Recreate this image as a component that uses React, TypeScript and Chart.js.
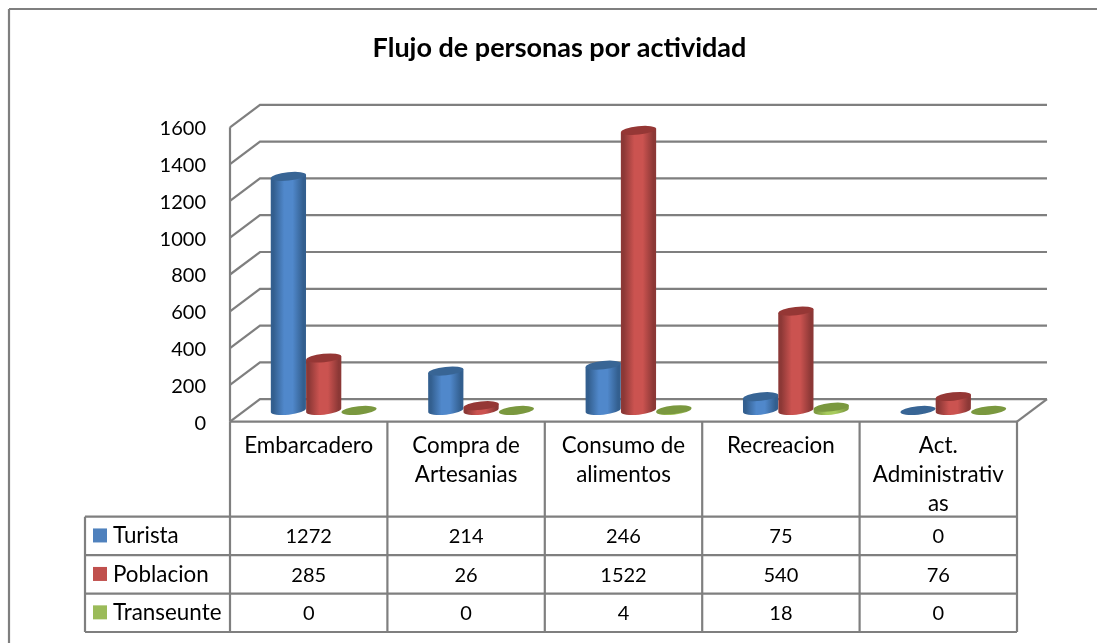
import React, { useEffect, useRef } from "react";
import { Chart, registerables } from "chart.js";

Chart.register(...registerables);

const chartTitle = "Flujo de personas por actividad";
const categories = [
  ["Embarcadero"],
  ["Compra de", "Artesanias"],
  ["Consumo de", "alimentos"],
  ["Recreacion"],
  ["Act.", "Administrativ", "as"],
];
const seriesNames = ["Turista", "Poblacion", "Transeunte"];
const turista = [1272, 214, 246, 75, 0];
const poblacion = [285, 26, 1522, 540, 76];
const transeunte = [0, 0, 4, 18, 0];
const seriesValues = [turista, poblacion, transeunte];

const FONT = "Lato, Carlito, Calibri, sans-serif";
const LINE = "#7f7f7f";
const DEPTH_X = 30;
const DEPTH_Y = -22.5;
const ROW_TOPS = [516.7, 555.2, 593.7, 632];
const TABLE_LEFT = 85;

const palette = [
  { key: "#4f81bd", top: "#386595", edge: "#335f8f", mid: "#5088cb" },
  { key: "#c0504d", top: "#953735", edge: "#8c3836", mid: "#cb5350" },
  { key: "#9bbb59", top: "#7a983f", edge: "#7f9c42", mid: "#a8cc5e" },
];

function line(ctx: any, x1: number, y1: number, x2: number, y2: number) {
  ctx.beginPath();
  ctx.moveTo(x1, y1);
  ctx.lineTo(x2, y2);
  ctx.stroke();
}

const framePlugin = {
  id: "frame3d",
  beforeDraw(chart: any) {
    const { ctx, scales, chartArea } = chart;
    const { left, right, bottom } = chartArea;
    ctx.save();
    ctx.fillStyle = "#ffffff";
    ctx.fillRect(0, 0, chart.width, chart.height);
    ctx.strokeStyle = LINE;
    ctx.lineWidth = 2.2;
    line(ctx, 9, 9, chart.width, 9);
    line(ctx, 9, 9, 9, chart.height);

    for (const t of scales.y.ticks) {
      const y = scales.y.getPixelForValue(t.value);
      ctx.beginPath();
      ctx.moveTo(left, y);
      ctx.lineTo(left + DEPTH_X, y + DEPTH_Y);
      ctx.lineTo(right + DEPTH_X, y + DEPTH_Y);
      ctx.stroke();
    }
    line(ctx, left, chartArea.top, left, bottom);
    line(ctx, left, bottom, right, bottom);
    line(ctx, right, bottom, right + DEPTH_X, bottom + DEPTH_Y);
    ctx.restore();
  },
  beforeDatasetsDraw(chart: any) {
    const { ctx, scales } = chart;
    const ry = 4.2;
    const rot = (-6 * Math.PI) / 180;
    const dx = DEPTH_X / 2;
    const dy = DEPTH_Y / 2;
    const zero = scales.y.getPixelForValue(0) + dy;
    ctx.save();
    categories.forEach((_, i) => {
      chart.data.datasets.forEach((_d: any, s: number) => {
        const el = chart.getDatasetMeta(s).data[i];
        const { x, y, width } = el.getProps(["x", "y", "width"], true);
        const cx = x + dx;
        const yt = y + dy;
        const rx = width / 2;
        const c = palette[s];
        const shift = rx * Math.sin(rot);
        if (yt < zero - 0.01) {
          const g = ctx.createLinearGradient(cx - rx, 0, cx + rx, 0);
          g.addColorStop(0, c.edge);
          g.addColorStop(0.08, c.edge);
          g.addColorStop(0.38, c.mid);
          g.addColorStop(0.62, c.mid);
          g.addColorStop(0.92, c.edge);
          g.addColorStop(1, c.edge);
          ctx.fillStyle = g;
          ctx.beginPath();
          ctx.ellipse(cx, zero, rx, ry, rot, 0, Math.PI);
          ctx.lineTo(cx - rx, yt - shift);
          ctx.lineTo(cx + rx, yt + shift);
          ctx.closePath();
          ctx.fill();
        }
        ctx.fillStyle = c.top;
        ctx.beginPath();
        ctx.ellipse(cx, yt, rx, ry, rot, 0, Math.PI * 2);
        ctx.fill();
      });
    });
    ctx.restore();
    return false;
  },
  afterDraw(chart: any) {
    const { ctx, scales, chartArea } = chart;
    const { left, right, bottom } = chartArea;
    const colW = (right - left) / categories.length;
    ctx.save();
    ctx.strokeStyle = LINE;
    ctx.lineWidth = 2.2;
    for (let c = 0; c <= categories.length; c++) {
      const x = left + c * colW;
      line(ctx, x, bottom, x, ROW_TOPS[ROW_TOPS.length - 1]);
    }
    for (const y of ROW_TOPS) line(ctx, TABLE_LEFT, y, right, y);
    line(ctx, TABLE_LEFT, ROW_TOPS[0], TABLE_LEFT, ROW_TOPS[ROW_TOPS.length - 1]);

    ctx.textBaseline = "middle";
    seriesNames.forEach((name, s) => {
      const cy = (ROW_TOPS[s] + ROW_TOPS[s + 1]) / 2;
      ctx.fillStyle = palette[s].key;
      ctx.fillRect(93, cy - 7.5, 14, 14);
      ctx.fillStyle = "#000000";
      ctx.textAlign = "left";
      ctx.font = `22.4px ${FONT}`;
      ctx.fillText(name, 113, cy);
      ctx.textAlign = "center";
      ctx.font = `20px ${FONT}`;
      seriesValues[s].forEach((v, i) => {
        ctx.fillText(String(v), scales.x.getPixelForValue(i), cy + 1);
      });
    });
    ctx.restore();
  },
};

export default function App() {
  const ref = useRef<HTMLCanvasElement>(null);
  useEffect(() => {
    if (!ref.current) return;
    const chart = new Chart(ref.current, {
      type: "bar",
      data: {
        labels: categories,
        datasets: seriesNames.map((name, s) => ({
          label: name,
          data: seriesValues[s],
          backgroundColor: palette[s].key,
          categoryPercentage: 0.673,
          barPercentage: 1,
        })),
      },
      plugins: [framePlugin],
      options: {
        responsive: false,
        animation: false,
        layout: { padding: { left: 102, right: 80, top: 0, bottom: 0 } },
        plugins: {
          legend: { display: false },
          tooltip: { enabled: false },
          title: {
            display: true,
            text: chartTitle,
            color: "#000000",
            font: { family: FONT, size: 27, weight: "bold", lineHeight: 1.2 },
            padding: { top: 31.8, bottom: 63.1 },
          },
        },
        scales: {
          x: {
            grid: { display: false },
            border: { display: false },
            ticks: {
              color: "#000000",
              font: { family: FONT, size: 22.4, lineHeight: 1.295 },
              maxRotation: 0,
              minRotation: 0,
              autoSkip: false,
              padding: 2,
            },
            afterFit(scale: any) {
              scale.height = 221.3;
            },
          },
          y: {
            min: 0,
            max: 1600,
            grid: { display: false },
            border: { display: false },
            ticks: {
              stepSize: 200,
              color: "#000000",
              font: { family: FONT, size: 20 },
              padding: 16,
              labelOffset: 1.5,
              callback: (v: any) => String(v),
            },
            afterFit(scale: any) {
              scale.width = 128;
            },
          },
        },
      },
    } as any);
    return () => chart.destroy();
  }, []);
  return (
    <canvas
      ref={ref}
      width={1097}
      height={643}
      style={{ position: "absolute", left: 0, top: 0, display: "block", filter: "blur(0.35px)" }}
    />
  );
}
